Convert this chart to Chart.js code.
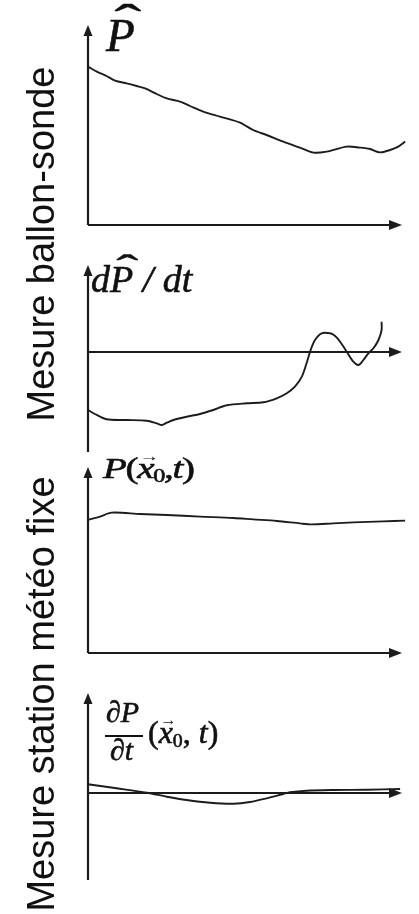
<!doctype html>
<html lang="fr">
<head>
<meta charset="utf-8">
<title>Mesure ballon-sonde / station météo fixe</title>
<script src="https://cdn.jsdelivr.net/npm/chart.js@4.4.1/dist/chart.umd.min.js"></script>
<style>
  html,body{margin:0;padding:0;background:#fff}
  body{width:419px;height:914px;position:relative;overflow:hidden;color:#111;font-family:"Liberation Serif","Times New Roman",serif}
  .panel{position:absolute;left:0;width:419px}
  .side{position:absolute;left:41px;font:38px/38px "Liberation Sans",Arial,sans-serif;white-space:nowrap;transform:translate(-50%,-50%) rotate(-90deg)}
  .m{position:absolute;line-height:1;white-space:nowrap;font-style:italic;-webkit-text-stroke:.6px #111;transform-origin:left top}
  .hat{position:relative;display:inline-block}
  .hat .h{position:absolute;left:.3em;top:-.3em;font-style:normal;transform:scaleX(1.7)}
  .vec{position:relative;display:inline-block}
  .vec .a{position:absolute;left:.12em;top:-.26em;font-size:.5em;font-style:normal;-webkit-text-stroke:0}
  .sub{font-size:.62em;font-style:normal;vertical-align:-.2em}
  .up{font-style:normal}
  .bar{position:absolute;height:0;border-top:2px solid #111}
</style>
</head>
<body>
<div class="panel" style="top:0;height:240px"><canvas id="c1"></canvas></div>
<div class="panel" style="top:240px;height:220px"><canvas id="c2"></canvas></div>
<div class="panel" style="top:460px;height:200px"><canvas id="c3"></canvas></div>
<div class="panel" style="top:660px;height:254px"><canvas id="c4"></canvas></div>

<div class="side" style="top:244px">Mesure ballon-sonde</div>
<div class="side" style="top:694px">Mesure station météo fixe</div>

<div class="m" style="left:106px;top:12px;font-size:47px"><span class="hat">P<span class="h">ˆ</span></span></div>
<div class="m" style="left:91px;top:260px;font-size:38px">d<span class="hat">P<span class="h">ˆ</span></span> / dt</div>
<div class="m" style="left:103px;top:453px;font-size:30px;letter-spacing:-1px;transform:scaleX(1.3)">P<span class="up">(</span><span class="vec">x<span class="a">→</span></span><span class="sub">0</span>,t<span class="up">)</span></div>
<div class="m" style="left:106px;top:697px;font-size:30px">∂P</div>
<div class="bar" style="left:105px;top:735px;width:38px"></div>
<div class="m" style="left:110px;top:735px;font-size:30px">∂t</div>
<div class="m" style="left:148px;top:716px;font-size:32px"><span class="up">(</span><span class="vec">x<span class="a">→</span></span><span class="sub">0</span><span class="up">, </span>t<span class="up">)</span></div>

<script>
  const INK = "#1c1c1c";

  // Mesure ballon-sonde : P chapeau
  const t1 = [0, 2.8, 5.9, 8.6, 12.3, 15.5, 18.2, 21.9, 25.1, 29.3, 32.5, 36.7, 42, 48.4, 52.6, 56.9, 62.2, 67.5, 71.8, 76, 82.4, 86.6, 89.8, 93, 96.2, 98.8, 101];
  const pHat = [79.2, 76.7, 74.5, 72.2, 70.8, 69.5, 68.3, 65.5, 63.3, 61.7, 59.5, 56.7, 54.2, 51.2, 47.5, 45, 41.7, 38.7, 36.2, 36.7, 39.2, 38.7, 38, 36.3, 37.5, 39.2, 41.7];

  // Mesure ballon-sonde : dP chapeau / dt
  const t2 = [0, 2.2, 5.9, 12.3, 18.7, 21.9, 23.5, 25.1, 27.2, 31.4, 35.7, 39.9, 44.2, 50.5, 55.8, 60.1, 63.3, 65.9, 68.1, 69.6, 70.9, 72.3, 74.4, 77.1, 78.7, 80.3, 82.4, 84.5, 86.1, 87.7, 89.3, 90.9, 92.5, 93.5, 93.5];
  const dpHat = [-5.8, -6.2, -6.73, -6.8, -6.87, -7.13, -7.3, -7.07, -6.8, -6.47, -6.2, -5.8, -5.33, -5.13, -5.03, -4.63, -4.13, -3.47, -2.47, -1.13, 0.2, 1.2, 1.87, 1.87, 1.6, 1.03, 0.03, -0.97, -1.3, -0.8, -0.13, 0.37, 1.2, 2.2, 3.03];

  // Mesure station météo fixe : P(x0, t)
  const t3 = [0, 3.8, 7.5, 16.6, 25.1, 35.7, 46.3, 52.6, 60.1, 67.5, 71.2, 78.1, 84.5, 94, 101];
  const pFixe = [66.5, 68.2, 70.2, 69.5, 69, 68.2, 67.5, 66.8, 66, 64.8, 64.3, 64.8, 65.3, 65.8, 66.2];

  // Mesure station météo fixe : dP/dt (x0, t)
  const t4 = [0, 9.1, 18.7, 25.1, 31.4, 38.9, 46.3, 51.6, 56.9, 62.2, 64.3, 69.6, 78.1, 88.8, 99.4];
  const dpFixe = [0.87, 0.47, 0.03, -0.37, -0.7, -0.97, -1.07, -0.9, -0.53, -0.1, 0.07, 0.23, 0.3, 0.33, 0.4];

  // axes with arrow heads: vertical axis at x=0, horizontal axis at y=0
  const arrowAxes = {
    id: "arrowAxes",
    beforeDatasetsDraw(chart) {
      const { ctx, chartArea: a } = chart;
      const y0 = chart.scales.y.getPixelForValue(0);
      ctx.save();
      ctx.strokeStyle = INK;
      ctx.fillStyle = INK;
      ctx.lineWidth = 2.2;
      ctx.beginPath();
      ctx.moveTo(a.left, a.bottom); ctx.lineTo(a.left, a.top + 8);
      ctx.moveTo(a.left, y0); ctx.lineTo(a.right - 10, y0);
      ctx.stroke();
      ctx.beginPath();
      ctx.moveTo(a.left, a.top); ctx.lineTo(a.left - 4.5, a.top + 11); ctx.lineTo(a.left + 4.5, a.top + 11); ctx.closePath();
      ctx.moveTo(a.right, y0); ctx.lineTo(a.right - 13, y0 - 5); ctx.lineTo(a.right - 13, y0 + 5); ctx.closePath();
      ctx.fill();
      ctx.restore();
    }
  };

  function panel(id, xs, ys, yMin, yMax, top, bottom) {
    new Chart(document.getElementById(id), {
      type: "line",
      data: { datasets: [{ data: xs.map((x, i) => ({ x, y: ys[i] })), borderColor: INK, borderWidth: 1.9, pointRadius: 0, tension: 0.3, fill: false, clip: false }] },
      options: {
        responsive: true, maintainAspectRatio: false, animation: false, events: [],
        layout: { padding: { left: 88, right: 17, top, bottom } },
        plugins: { legend: { display: false }, tooltip: { enabled: false } },
        scales: {
          x: { type: "linear", min: 0, max: 100, display: false },
          y: { min: yMin, max: yMax, display: false }
        }
      },
      plugins: [arrowAxes]
    });
  }

  panel("c1", t1, pHat, 0, 100, 25, 15);
  panel("c2", t2, dpHat, -10, 8.7, 25, 8);
  panel("c3", t3, pFixe, 0, 93, 7, 7);
  panel("c4", t4, dpFixe, -8.7, 10, 33, 34);
</script>
</body>
</html>
